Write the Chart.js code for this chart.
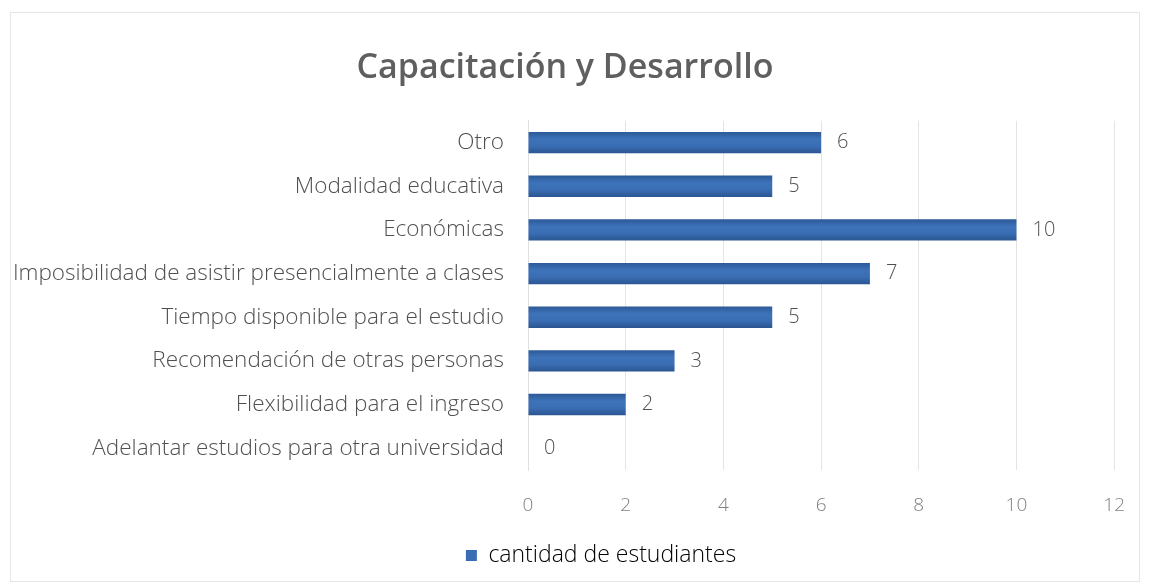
<!DOCTYPE html>
<html>
<head>
<meta charset="utf-8">
<script src="https://cdn.jsdelivr.net/npm/chart.js@4"></script>
<style>
  html, body { margin: 0; padding: 0; background: #fff; }
  #wrap { width: 1149px; height: 585px; position: relative; }
</style>
</head>
<body>
<div id="wrap"><canvas id="chart"></canvas></div>
<script>
const titleText = 'Capacitación y Desarrollo';
const seriesName = 'cantidad de estudiantes';
const categories = [
    'Otro',
    'Modalidad educativa',
    'Económicas',
    'Imposibilidad de asistir presencialmente a clases',
    'Tiempo disponible para el estudio',
    'Recomendación de otras personas',
    'Flexibilidad para el ingreso',
    'Adelantar estudios para otra universidad'
];
const cantidad = [6, 5, 10, 7, 5, 3, 2, 0];
const xMin = 0, xMax = 12, xStep = 2;

const barBlue = '#3a6db4';
const textGray = '#505050';
const fontFamily = '"Open Sans", "Liberation Sans", sans-serif';

// degradado vertical de cada barra (bordes mas oscuros, como en Excel)
function barFill(c) {
    const chart = c.chart;
    const yScale = chart.scales.y;
    if (!yScale || c.dataIndex === undefined) return barBlue;
    const cy = yScale.getPixelForValue(c.dataIndex);
    const half = 11;
    const g = chart.ctx.createLinearGradient(0, cy - half, 0, cy + half);
    g.addColorStop(0, '#2c5896');
    g.addColorStop(0.35, '#3d73ba');
    g.addColorStop(0.65, '#3a6eb4');
    g.addColorStop(1, '#2a5490');
    return g;
}

// etiquetas de valor al final de cada barra
const valueLabels = {
    id: 'valueLabels',
    afterDatasetsDraw(chart) {
        const { ctx } = chart;
        const meta = chart.getDatasetMeta(0);
        ctx.save();
        ctx.font = '300 20px ' + fontFamily;
        ctx.fillStyle = textGray;
        ctx.textAlign = 'left';
        ctx.textBaseline = 'middle';
        meta.data.forEach((bar, i) => {
            ctx.fillText(String(cantidad[i]), bar.x + 16, bar.y);
        });
        ctx.restore();
    }
};

// marco claro alrededor del grafico
const frame = {
    id: 'frame',
    beforeDraw(chart) {
        const { ctx } = chart;
        ctx.save();
        ctx.fillStyle = '#fff';
        ctx.fillRect(0, 0, chart.width, chart.height);
        ctx.strokeStyle = '#e6e6e6';
        ctx.lineWidth = 1;
        ctx.strokeRect(10.5, 12.5, chart.width - 20, chart.height - 16);
        ctx.restore();
    }
};

// la leyenda va un poco a la derecha, centrada bajo el area de barras
const legendShift = {
    id: 'legendShift',
    afterLayout(chart) {
        chart.legend.left += 36;
        chart.legend.right += 36;
    }
};

const ctx = document.getElementById('chart').getContext('2d');
const chart = new Chart(ctx, {
    type: 'bar',
    data: {
        labels: categories,
        datasets: [{
            label: seriesName,
            data: cantidad,
            backgroundColor: barFill,
            borderColor: '#2c5896',
            borderWidth: 0,
            categoryPercentage: 1,
            barPercentage: 0.49
        }]
    },
    options: {
        indexAxis: 'y',
        animation: false,
        responsive: true,
        maintainAspectRatio: false,
        layout: { padding: { left: 10, right: 29, top: 34, bottom: 8 } },
        plugins: {
            title: {
                display: true,
                text: titleText,
                color: '#5f5f5f',
                font: { family: fontFamily, size: 34, weight: '600' },
                padding: { top: 14, bottom: 32 }
            },
            legend: {
                position: 'bottom',
                labels: {
                    color: textGray,
                    font: { family: fontFamily, size: 23, weight: '300' },
                    boxWidth: 11,
                    boxHeight: 11,
                    padding: 10,
                    generateLabels(chart) {
                        return [{
                            text: seriesName,
                            fillStyle: barBlue,
                            strokeStyle: barBlue,
                            lineWidth: 0,
                            datasetIndex: 0
                        }];
                    }
                }
            },
            tooltip: { enabled: false }
        },
        scales: {
            x: {
                min: xMin,
                max: xMax,
                ticks: {
                    stepSize: xStep,
                    color: '#808080',
                    font: { family: fontFamily, size: 19, weight: '300' },
                    padding: 24
                },
                grid: { color: '#e4e4e4', drawTicks: false },
                border: { display: false },
                afterFit(scale) { scale.height = 64; }
            },
            y: {
                ticks: {
                    color: textGray,
                    font: { family: fontFamily, size: 22.5, weight: '300' },
                    padding: 24
                },
                grid: { display: false, drawTicks: false },
                border: { display: true, color: '#e0e0e0' },
                afterFit(scale) { scale.width = 518; }
            }
        }
    },
    plugins: [frame, legendShift, valueLabels]
});
</script>
</body>
</html>
